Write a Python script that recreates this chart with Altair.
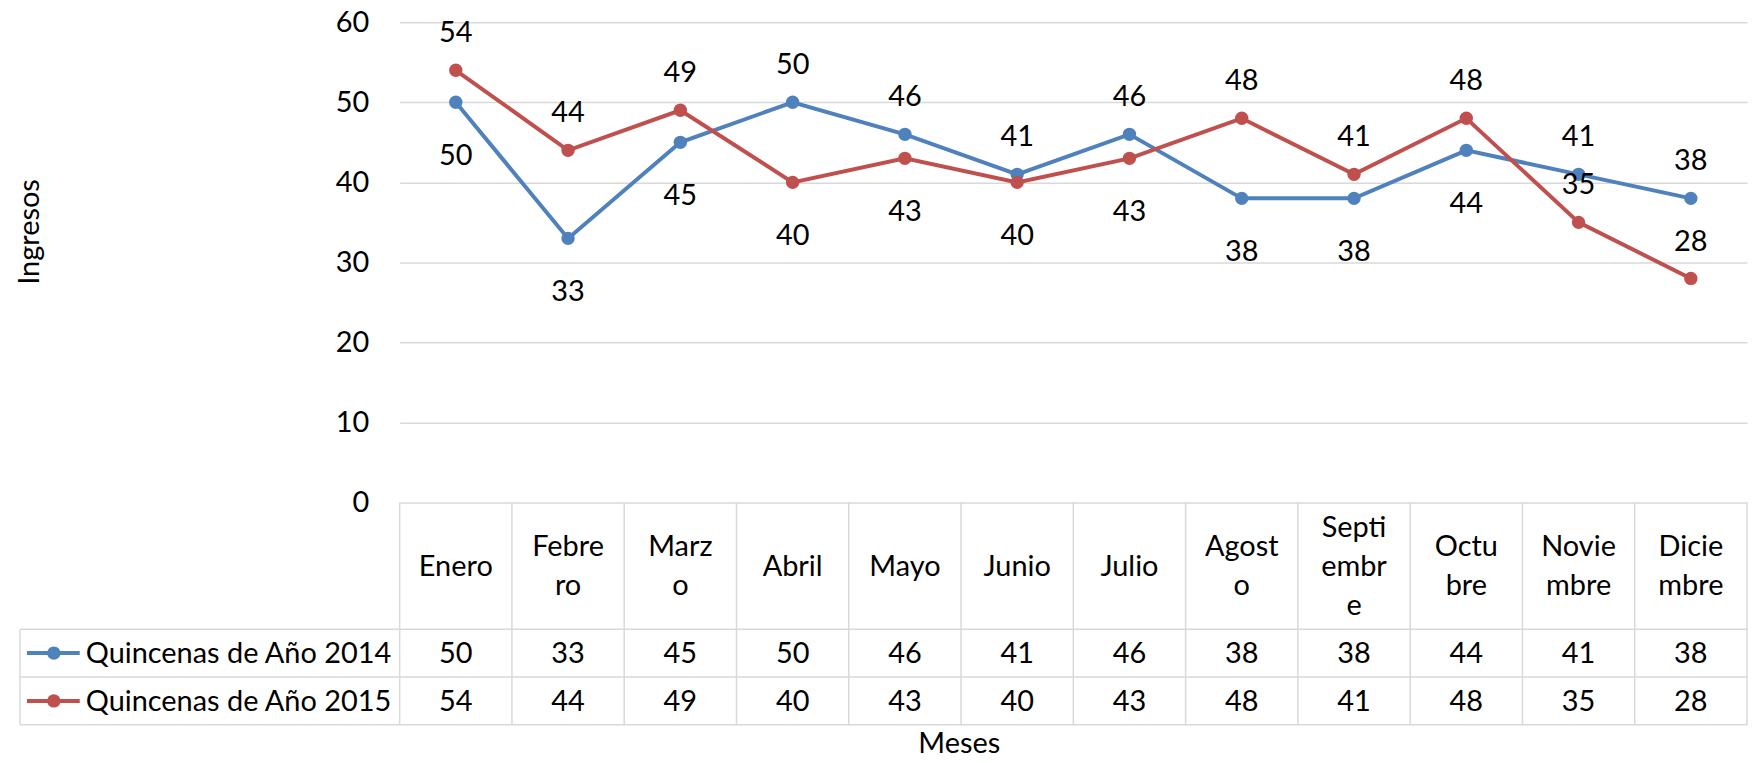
import altair as alt
import pandas as pd

# ---------------- data ----------------
months = ["Enero", "Febrero", "Marzo", "Abril", "Mayo", "Junio", "Julio",
          "Agosto", "Septiembre", "Octubre", "Noviembre", "Diciembre"]
month_labels = ["Enero", "Febre\nro", "Marz\no", "Abril", "Mayo", "Junio", "Julio",
                "Agost\no", "Septi\nembr\ne", "Octu\nbre", "Novie\nmbre", "Dicie\nmbre"]
series_names = ["Quincenas de Año 2014", "Quincenas de Año 2015"]
values_2014 = [50, 33, 45, 50, 46, 41, 46, 38, 38, 44, 41, 38]
values_2015 = [54, 44, 49, 40, 43, 40, 43, 48, 41, 48, 35, 28]
label_side_2014 = ["below", "below", "below", "above", "above", "above", "above",
                   "below", "below", "below", "above", "above"]
label_side_2015 = ["above", "above", "above", "below", "below", "below", "below",
                   "above", "above", "above", "above", "above"]
y_ticks = [0, 10, 20, 30, 40, 50, 60]
series_colors = ["#4F81BD", "#C0504D"]

# ---------------- layout / style ----------------
FONT = "Lato"
FS = 29
TXT = "#000000"
GRID = "#D9D9D9"
W, H = 1352, 482
HEADER_H = 127
ROW_H = 48
TABLE_H = HEADER_H + 2 * ROW_H
LEGEND_W = 381
LINE_H = 39
DOT = 180
LW = 4

rows = []
for s, vals, sides in zip(series_names, [values_2014, values_2015],
                          [label_side_2014, label_side_2015]):
    for m, v, sd in zip(months, vals, sides):
        rows.append({"month": m, "series": s, "value": v, "side": sd})
df = pd.DataFrame(rows)
df_months = pd.DataFrame({"month": months, "label": month_labels,
                          "nlines": [lab.count("\n") + 1 for lab in month_labels]})
df_series = pd.DataFrame({"series": series_names})

x_scale = alt.Scale(type="band", domain=months, paddingInner=0, paddingOuter=0)
color_scale = alt.Scale(domain=series_names, range=series_colors)

x_axis = alt.Axis(title="Meses", labels=False, ticks=False, domain=False, grid=False,
                  titleX=561, titleY=242, titleBaseline="middle", titleAlign="center",
                  titleFont=FONT, titleFontSize=FS, titleFontWeight="normal",
                  titleColor=TXT)
x_enc = alt.X("month:N", scale=x_scale, sort=months, axis=x_axis)
y_enc = alt.Y("value:Q", scale=alt.Scale(domain=[0, 60], nice=False, zero=True),
              axis=alt.Axis(values=y_ticks, title="Ingresos", grid=True,
                            gridColor=GRID, gridWidth=1.5, domain=False, ticks=False,
                            labelPadding=31, labelFont=FONT, labelFontSize=FS,
                            labelColor=TXT, titleFont=FONT, titleFontSize=FS,
                            titleFontWeight="normal", titleColor=TXT,
                            titleX=-371, titleY=210, titleBaseline="middle",
                            titleAlign="center"))
color_enc = alt.Color("series:N", scale=color_scale, legend=None)

base = alt.Chart(df)

lines = base.mark_line(strokeWidth=LW).encode(x=x_enc, y=y_enc, color=color_enc)
dots = base.mark_circle(size=DOT, opacity=1).encode(x=x_enc, y=y_enc, color=color_enc)
lab_above = base.transform_filter(alt.datum.side == "above").mark_text(
    font=FONT, fontSize=FS, color=TXT, baseline="middle", dy=-37
).encode(x=x_enc, y=y_enc, text="value:Q")
lab_below = base.transform_filter(alt.datum.side == "below").mark_text(
    font=FONT, fontSize=FS, color=TXT, baseline="middle", dy=54
).encode(x=x_enc, y=y_enc, text="value:Q")

layers = [lines, dots, lab_above, lab_below]

# ---------------- data table ----------------
rule_style = dict(color=GRID, strokeWidth=1.5)
col_rules = alt.Chart(df_months).mark_rule(**rule_style).encode(
    x=alt.X("month:N", scale=x_scale, sort=months, axis=x_axis, bandPosition=0),
    y=alt.value(H), y2=alt.value(H + TABLE_H))
right_rule = alt.Chart(df_months.tail(1)).mark_rule(**rule_style).encode(
    x=alt.X("month:N", scale=x_scale, sort=months, axis=x_axis, bandPosition=1),
    y=alt.value(H), y2=alt.value(H + TABLE_H))
left_rule = alt.Chart(df_series.head(1)).mark_rule(**rule_style).encode(
    x=alt.value(-LEGEND_W), y=alt.value(H + HEADER_H), y2=alt.value(H + TABLE_H))
layers += [col_rules, right_rule, left_rule]
for k in range(3):
    yy = H + HEADER_H + k * ROW_H
    layers.append(alt.Chart(df_series.head(1)).mark_rule(**rule_style).encode(
        x=alt.value(-LEGEND_W), x2=alt.value(W), y=alt.value(yy)))

# month header (multi-line labels centred vertically in the header row)
header_center = H + HEADER_H / 2 + 1
for n in sorted(set(df_months["nlines"])):
    first_line_y = header_center - (n - 1) * LINE_H / 2
    layers.append(
        alt.Chart(df_months).transform_filter(alt.datum.nlines == n).mark_text(
            font=FONT, fontSize=FS, color=TXT, baseline="middle",
            lineBreak="\n", lineHeight=LINE_H
        ).encode(x=x_enc, y=alt.value(first_line_y), text="label:N")
    )

for i, s in enumerate(series_names):
    yc = H + HEADER_H + ROW_H * (i + 0.5)
    sdf = df_series[df_series.series == s]
    layers.append(alt.Chart(sdf).mark_rule(strokeWidth=LW).encode(
        x=alt.value(-374), x2=alt.value(-321), y=alt.value(yc), color=color_enc))
    layers.append(alt.Chart(sdf).mark_circle(size=DOT, opacity=1).encode(
        x=alt.value(-347), y=alt.value(yc), color=color_enc))
    layers.append(alt.Chart(sdf).mark_text(
        font=FONT, fontSize=FS, color=TXT, baseline="middle", align="left"
    ).encode(x=alt.value(-315), y=alt.value(yc + 1), text="series:N"))
    layers.append(alt.Chart(df[df.series == s]).mark_text(
        font=FONT, fontSize=FS, color=TXT, baseline="middle"
    ).encode(x=x_enc, y=alt.value(yc + 1), text="value:Q"))

chart = alt.layer(*layers).properties(
    width=W, height=H,
    autosize=alt.AutoSizeParams(type="none"),
    padding={"left": 393, "top": 13, "right": 1, "bottom": 252},
).configure_view(stroke=None)

chart.save("out.html", embed_options={"renderer": "svg", "actions": False})
